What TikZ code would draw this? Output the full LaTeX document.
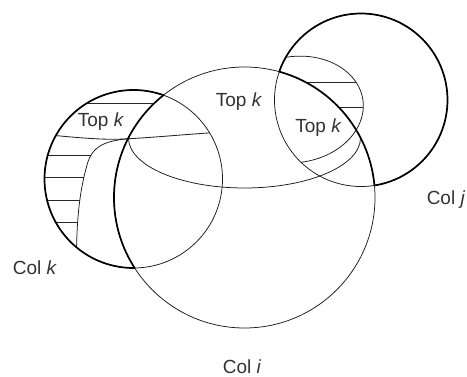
\documentclass[tikz,border=0pt]{standalone}
\usepackage{fontspec}
\setmainfont{Liberation Sans}
\begin{document}
\begin{tikzpicture}[x=1pt,y=-1pt,
  thinln/.style={line width=0.75pt, draw=black!90},
  hatch/.style={line width=0.85pt, draw=black!85},
  thkln/.style={line width=1.7pt, draw=black},
  lbl/.style={font=\fontsize{19}{19}\selectfont, text=black!80, inner sep=0pt, anchor=base}]
\useasboundingbox (0,0) rectangle (467,377);
% centres
\coordinate (Ci) at (244.5,197.5);
\coordinate (Ck) at (133.5,179);
\coordinate (Cj) at (361,100);
% thin circles
\draw[thinln] (Ci) circle[radius=130.5];
\draw[thinln] (Ck) circle[radius=89];
\draw[thinln] (Cj) circle[radius=86.5];
% Col i top-k divider (half ellipse)
\draw[thinln] (128.5,138) arc[start angle=180, end angle=0, x radius=116, y radius=50];
% Col j top-k boundary
\begin{scope}
  \clip (Cj) circle[radius=86.5];
  \draw[thinln] plot[domain=-8:188, samples=80, variable=\t]
    ({295.5-7.5*cos(\t)+67.4*sin(\t)}, {109.5-52.5*cos(\t)-9.6*sin(\t)});
\end{scope}
\draw[hatch] (305.2,82) -- (356,82);
\draw[hatch] (338.5,107) -- (363.3,107);
% Col k top-k divider and boundary
\begin{scope}
  \clip (Ck) circle[radius=89];
  \draw[hatch] (50,135) .. controls (90,139) and (110,140) .. (127.5,138.8)
        .. controls (160,137) and (190,134) .. (215,132.6);
  \draw[thinln] (127.5,138.8) .. controls (105,141) and (92,146) .. (87,165)
        .. controls (80,190) and (77,215) .. (76.5,252);
  \draw[hatch] (87.2,103) -- (154.5,103);
  \begin{scope}
    \clip (127.5,138.8) .. controls (105,141) and (92,146) .. (87,165)
        .. controls (80,190) and (77,215) .. (76.5,252) -- (0,252) -- (0,138.8) -- cycle;
    \foreach \yy in {155,177,200,222} \draw[hatch] (30,\yy) -- (130,\yy);
  \end{scope}
\end{scope}
% thick outlines
\begin{scope}[even odd rule]
  \clip (-20,-20) rectangle (490,400) (Ci) circle[radius=130.5];
  \draw[thkln] (Ck) circle[radius=89];
  \draw[thkln] (Cj) circle[radius=86.5];
\end{scope}
\begin{scope}
  \clip (Ck) circle[radius=89];
  \draw[thkln] (Ci) circle[radius=130.5];
\end{scope}
\begin{scope}
  \clip (Cj) circle[radius=86.5];
  \draw[thkln] (Ci) circle[radius=130.5];
\end{scope}
% labels
\node[lbl] (tk) at (101,127) {Top \textit{k}};
\node[lbl] (ti) at (239,107) {Top \textit{k}};
\node[lbl] (tj) at (318.5,133) {Top \textit{k}};
\node[lbl] (lk) at (35,275) {Col \textit{k}};
\node[lbl] (lj) at (446,205) {Col \textit{j}};
\node[lbl] (li) at (242,374) {Col \textit{i}};
\end{tikzpicture}
\end{document}
